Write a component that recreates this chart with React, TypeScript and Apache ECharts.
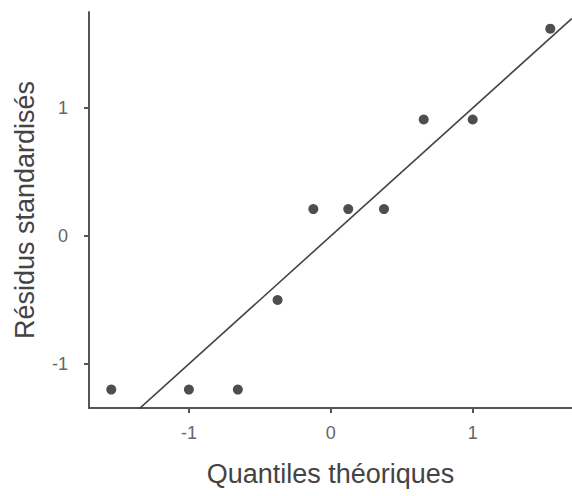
import React, { useEffect, useRef } from "react";
import * as echarts from "echarts";

// Theoretical normal quantiles (x) and standardised residuals (y)
const theoreticalQuantiles = [-1.547, -1.0, -0.655, -0.375, -0.123, 0.123, 0.375, 0.655, 1.0, 1.547];
const standardizedResiduals = [-1.2, -1.2, -1.2, -0.5, 0.21, 0.21, 0.21, 0.91, 0.91, 1.62];

// Reference line y = x, drawn across the visible x range
const refLineX = [-1.704, 1.7];

const xTicks = [-1, 0, 1];
const yTicks = [-1, 0, 1];

const FONT = "Liberation Sans, Arial, sans-serif";

export default function App() {
  const ref = useRef<HTMLDivElement>(null);

  useEffect(() => {
    if (!ref.current) return;
    const chart = echarts.init(ref.current, undefined, { renderer: "svg" });
    const points = theoreticalQuantiles.map((x, i) => [x, standardizedResiduals[i]]);
    const refLine = refLineX.map((x) => [x, x]);

    chart.setOption({
      animation: false,
      backgroundColor: "#ffffff",
      grid: { left: 89, top: 12, right: 0, bottom: 88, containLabel: false },
      xAxis: {
        type: "value",
        min: -1.704,
        max: 1.7,
        name: "Quantiles théoriques",
        nameLocation: "middle",
        nameGap: 52,
        nameTextStyle: { fontFamily: FONT, fontSize: 27, color: "#444" },
        axisLine: { show: true, onZero: false, lineStyle: { color: "#555", width: 2 } },
        axisTick: { show: true, length: 5, customValues: xTicks, lineStyle: { color: "#555", width: 2 } },
        axisLabel: { customValues: xTicks, margin: 16, fontFamily: FONT, fontSize: 18, color: "#666" },
        splitLine: { show: false },
      },
      yAxis: {
        type: "value",
        min: -1.344,
        max: 1.75,
        name: "Résidus standardisés",
        nameLocation: "middle",
        nameGap: 51,
        nameTextStyle: { fontFamily: FONT, fontSize: 27, color: "#444" },
        axisLine: { show: true, onZero: false, lineStyle: { color: "#555", width: 2 } },
        axisTick: { show: true, length: 5, customValues: yTicks, lineStyle: { color: "#555", width: 2 } },
        axisLabel: { customValues: yTicks, margin: 21, fontFamily: FONT, fontSize: 18, color: "#666" },
        splitLine: { show: false },
      },
      series: [
        {
          type: "line",
          data: refLine,
          symbol: "none",
          clip: true,
          lineStyle: { color: "#444", width: 1.6 },
          silent: true,
          z: 2,
        },
        {
          type: "scatter",
          data: points,
          symbol: "circle",
          symbolSize: 10,
          itemStyle: { color: "#222" },
          z: 3,
        },
      ],
    });

    return () => chart.dispose();
  }, []);

  return (
    <div
      ref={ref}
      style={{ position: "fixed", left: 0, top: 0, width: 572, height: 496, background: "#fff" }}
    />
  );
}
